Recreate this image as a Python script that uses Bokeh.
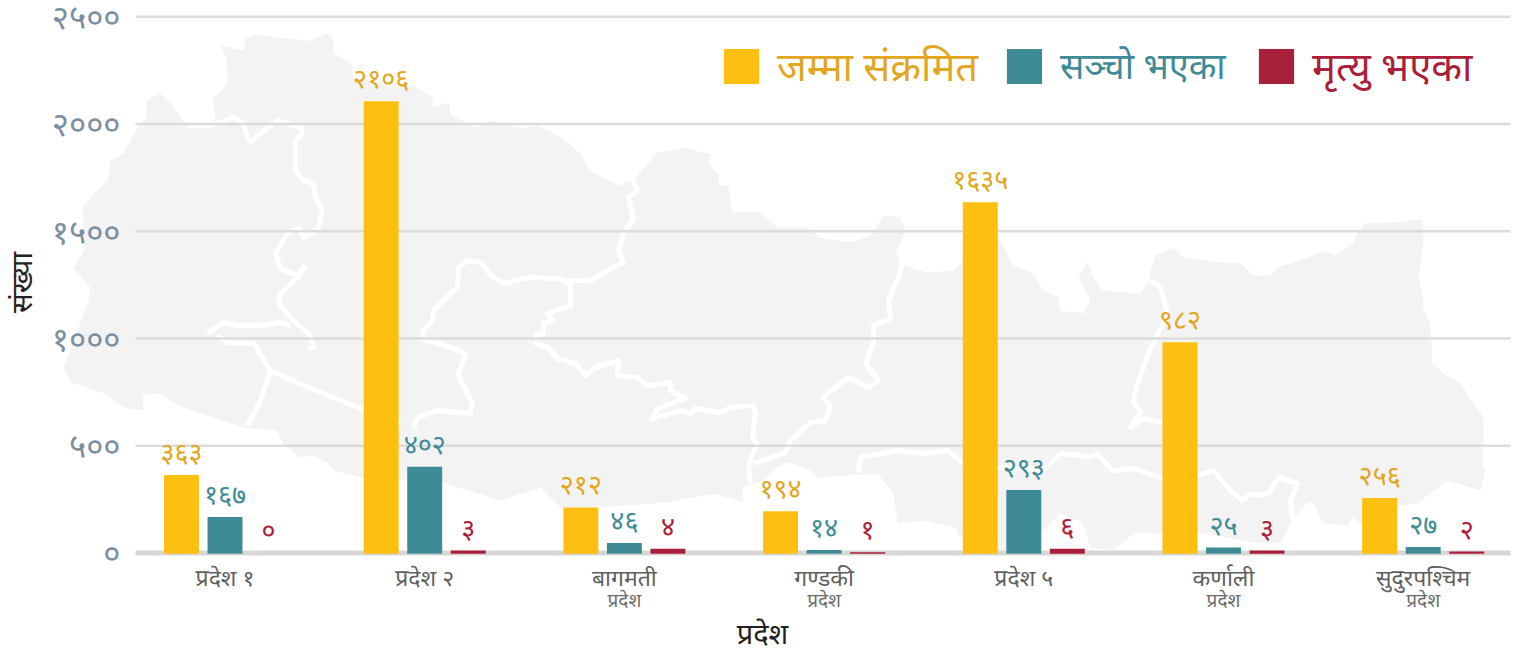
from bokeh.plotting import figure
from bokeh.embed import file_html
from bokeh.resources import INLINE
from bokeh.core.properties import value
from bokeh.models import (LinearAxis, FixedTicker, Range1d, Legend, LegendItem, ColumnDataSource)

provinces = ["प्रदेश १", "प्रदेश २", "बागमती", "गण्डकी", "प्रदेश ५", "कर्णाली", "सुदुरपश्चिम"]
sublabels = {2: "प्रदेश", 3: "प्रदेश", 5: "प्रदेश", 6: "प्रदेश"}
total = [363, 2106, 212, 194, 1635, 982, 256]
recovered = [167, 402, 46, 14, 293, 25, 27]
deaths_drawn = [0, 11, 19, 3, 19, 11, 6]
deaths_labels = [0, 3, 4, 1, 6, 3, 2]
yticks = [0, 500, 1000, 1500, 2000, 2500]
series_names = ["जम्मा संक्रमित", "सञ्चो भएका", "मृत्यु भएका"]

DIG = str.maketrans("0123456789", "०१२३४५६७८९")
def dev(v):
    return str(v).translate(DIG)

# decorative background map, traced in reference-pixel map units
map_outline = [(73,268),(85,247),(82,207),(93,193),(107,180),(110,160),(123,153),(137,127),(146,117),(146,100),(160,93),
    (170,103),(187,127),(210,125),(215,117),(212,99),(227,83),(226,57),(220,45),(243,50),(245,38),(253,34),(287,38),
    (310,40),(327,33),(333,40),(333,53),(350,62),(353,77),(413,85),(433,98),(432,107),(448,102),(450,115),(477,127),
    (490,120),(520,128),(537,125),(563,138),(580,153),(590,170),(617,185),(633,180),(650,160),(653,153),(687,147),
    (700,152),(710,153),(708,163),(718,175),(718,185),(728,185),(732,212),(760,212),(777,227),(807,227),(820,237),
    (850,242),(870,235),(883,215),(900,217),(905,230),(897,248),(903,265),(927,272),(953,270),(963,260),(1000,240),
    (1013,265),(1033,273),(1043,290),(1058,297),(1060,310),(1083,313),(1090,300),(1078,277),(1087,262),(1093,277),
    (1102,290),(1140,293),(1148,282),(1151,267),(1155,255),(1173,247),(1182,257),(1220,262),(1240,263),(1253,275),
    (1270,275),(1277,267),(1300,260),(1325,250),(1333,255),(1340,252),(1353,242),(1363,223),(1390,222),(1422,219),
    (1423,240),(1418,277),(1423,297),(1422,307),(1430,323),(1432,363),(1443,373),(1460,383),(1483,417),(1483,443),
    (1482,463),(1485,470),(1480,490),(1447,480),(1433,490),(1417,503),(1397,505),(1362,525),(1352,517),(1347,525),
    (1323,523),(1313,502),(1307,502),(1295,515),(1290,523),(1280,543),(1253,542),(1197,532),(1162,533),(1135,532),
    (1113,549),(1090,548),(1082,522),(1060,513),(1040,533),(1020,550),(997,550),(997,535),(958,535),(955,527),
    (923,520),(897,523),(893,493),(877,473),(817,477),(807,468),(787,462),(777,467),(763,480),(742,487),(743,502),
    (713,493),(667,502),(597,507),(560,507),(540,487),(500,500),(443,482),(360,477),(333,470),(328,463),(313,455),
    (300,457),(282,443),(277,430),(243,427),(207,415),(183,407),(157,393),(142,395),(143,410),(123,407),(103,393),
    (70,382),(63,367),(67,357),(83,313),(88,300),(90,287)]
map_x = [q[0] for q in map_outline]
map_y = [q[1] for q in map_outline]

map_boundaries = [
    [(187,125),(210,125),(233,117),(243,123),(247,137),(250,142),(260,133),(277,120),(300,127),(302,133),(295,140),
     (295,170),(303,180),(313,183),(315,197),(322,210),(317,230),(303,237),(298,228),(287,233),(275,253),(280,268),
     (297,275),(305,265)],
    [(305,265),(297,277),(280,293),(278,303),(293,320),(310,335),(313,347),(307,348)],
    [(207,333),(223,322),(237,325),(260,325),(280,322),(290,325)],
    [(217,335),(227,342),(253,343),(270,370),(260,400),(247,425)],
    [(270,370),(303,385),(360,408),(400,422)],
    [(413,428),(417,417),(437,410),(470,413),(472,403),(460,380),(458,373),(465,353),(450,347),(422,338),(423,330),
     (432,320),(433,310),(443,300),(457,287),(458,267),(467,260),(480,262),(493,277),(503,283),(527,277),(560,278),
     (570,283),(570,293),(570,305),(547,313),(553,320),(543,323),(543,333),(533,335)],
    [(563,280),(590,280),(607,270),(623,262),(618,250),(623,233),(633,218),(628,197),(637,190),(633,180)],
    [(533,342),(547,347),(557,358),(575,363),(585,375),(595,367),(618,360),(617,375),(637,377),(647,385),(670,382),
     (670,390),(685,398),(657,408),(652,418),(680,410),(690,413),(695,408),(720,412),(730,407),(753,405),(755,413),
     (752,437),(757,445),(752,453),(748,467),(750,483)],
    [(753,463),(785,452),(790,440),(810,422),(825,420),(830,405),(822,397),(840,383),(848,377),(867,387),(878,380),
     (865,363),(873,343),(873,325),(890,318),(888,300),(898,277),(902,262),(897,248)],
    [(858,472),(860,457),(897,450),(923,453),(947,450),(963,463),(1000,467),(1043,470),(1060,453),(1080,455),(1088,457),
     (1097,454),(1112,470),(1133,468),(1160,477),(1197,475),(1213,470),(1230,490),(1242,500),(1250,493),(1257,495),
     (1268,493),(1278,477),(1297,483),(1290,500),(1292,520)],
    [(1150,280),(1160,287),(1167,313),(1165,320),(1160,328),(1148,353),(1137,383),(1133,400),(1140,412),(1130,427),
     (1143,418),(1162,422)],
]
boundary_x = [[q[0] for q in line] for line in map_boundaries]
boundary_y = [[q[1] for q in line] for line in map_boundaries]

YEL, TEAL, RED = "#fdc010", "#3e8b96", "#a8213b"
YEL_T, TEAL_T, RED_T = "#e2a620", "#3e8b96", "#ab2038"
FONT = "Noto Sans"

SHIFT = 8  # figure is lifted by this many px so the top tick label keeps its place
W_PX, H_PX = 1524, 654 + SHIFT
FT, FB, FL, FR = 6, 563, 0, 1524     # frame edges, reference pixels
PX = 0.2145
GROUP_PX, FIRST_PX = 199.7, 224.5
def xpos(px):
    return (px - FIRST_PX) / GROUP_PX
GRID_L, GRID_R = xpos(135), xpos(1510)

p = figure(width=W_PX, height=H_PX, output_backend="svg", toolbar_location=None,
           x_range=Range1d(xpos(FL), xpos(FR)), y_range=Range1d((552.4 - FB) / PX, (552.4 - FT) / PX),
           min_border_left=FL, min_border_right=W_PX - FR, min_border_top=FT + SHIFT, min_border_bottom=654 - FB,
           outline_line_color=None, x_axis_location=None, y_axis_location="left", margin=(-SHIFT, 0, 0, 0))
p.extra_x_ranges["map"] = Range1d(FL, FR)
p.extra_y_ranges["map"] = Range1d(FB, FT)

p.grid.visible = False

p.patch(map_x, map_y, x_range_name="map", y_range_name="map", fill_color="#f3f3f3", line_color=None)
p.multi_line(boundary_x, boundary_y, x_range_name="map", y_range_name="map", line_color="white",
             line_width=5, line_join="round")
p.segment([GRID_L] * (len(yticks) - 1), yticks[1:], [GRID_R] * (len(yticks) - 1), yticks[1:],
          line_color="#dcdcdc", line_width=2.5)
p.segment([GRID_L], [0], [GRID_R], [0], line_color="#d9d7d5", line_width=5)

yaxis = p.yaxis[0]
yaxis.ticker = FixedTicker(ticks=yticks)
yaxis.major_label_overrides = {t: dev(t) for t in yticks}
yaxis.major_label_text_font = FONT
yaxis.major_label_text_font_size = "33px"
yaxis.major_label_text_color = "#7b8f9f"
yaxis.major_label_standoff = -70
yaxis.fixed_location = xpos(56)
yaxis.major_tick_line_color = None
yaxis.minor_tick_line_color = None
yaxis.axis_line_color = None

xs = list(range(len(provinces)))
xax = LinearAxis(ticker=FixedTicker(ticks=xs), major_label_overrides={i: n for i, n in enumerate(provinces)},
                 major_label_text_font=FONT, major_label_text_font_size="23px", major_label_text_color="#5f5f5f",
                 major_tick_line_color=None, minor_tick_line_color=None, axis_line_color=None,
                 major_label_standoff=-9)
p.add_layout(xax, "below")
xax2 = LinearAxis(ticker=FixedTicker(ticks=list(sublabels)), major_label_overrides=sublabels,
                  major_label_text_font=FONT, major_label_text_font_size="19px", major_label_text_color="#6b6b6b",
                  major_tick_line_color=None, minor_tick_line_color=None, axis_line_color=None,
                  major_label_standoff=-15, axis_label="प्रदेश", axis_label_text_font=FONT,
                  axis_label_text_font_style="normal", axis_label_text_font_size="29px",
                  axis_label_text_color="#222222", axis_label_standoff=-3)
p.add_layout(xax2, "below")

p.text([20], [282], text=["संख्या"], x_range_name="map", y_range_name="map", angle=1.5708,
       text_font=value(FONT), text_font_size="29px", text_color="#222222",
       text_align="center", text_baseline="middle")

OFF, W = 0.218, 0.175
legend_pos = [(719 - FL, 470), (1002 - FL, 473), (1254 - FL, 470)]
legend_sizes = ["40px", "36px", "40px"]
rows = [(total, total, -OFF, YEL, YEL_T), (recovered, recovered, 0, TEAL, TEAL_T), (deaths_drawn, deaths_labels, OFF, RED, RED_T)]
for k, (vals, labs, off, col, tcol) in enumerate(rows):
    src = ColumnDataSource(dict(x=[i + off for i in xs], top=vals,
                                bottom=[-4 if v > 0 else 0 for v in vals],
                                lab=[dev(v) for v in labs]))
    r = p.vbar(x="x", top="top", bottom="bottom", width=W, fill_color=col, line_color=None, source=src)
    p.text(x="x", y="top", text="lab", source=src, text_align="center", text_baseline="bottom", y_offset=-5,
           text_color=tcol, text_font=value(FONT), text_font_size="27px")
    leg = Legend(items=[LegendItem(label=series_names[k], renderers=[r])], location=legend_pos[k],
                 glyph_width=44, glyph_height=44, label_text_font=FONT, label_text_font_size=legend_sizes[k],
                 label_text_color=tcol, background_fill_alpha=0, border_line_color=None,
                 padding=0, margin=0, label_standoff=14)
    p.add_layout(leg, "center")

open("out.html", "w").write(file_html(p, INLINE))
